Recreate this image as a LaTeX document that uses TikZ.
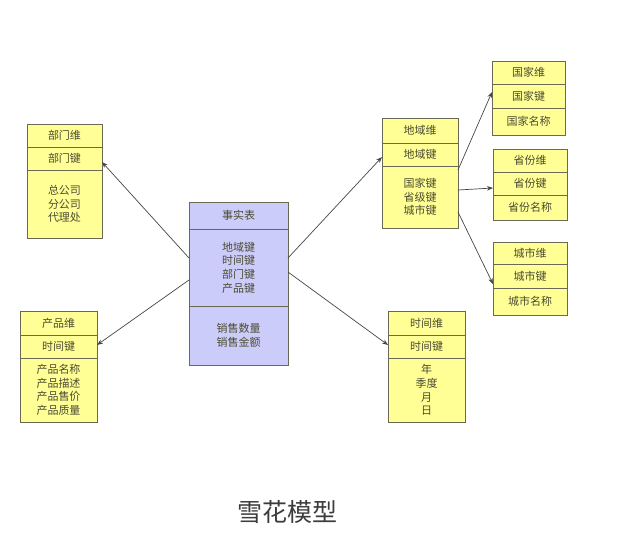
\documentclass[tikz,border=0pt]{standalone}
\usepackage{fontspec}
\setmainfont{Noto Sans CJK SC}
\usetikzlibrary{arrows.meta}
\definecolor{yfill}{RGB}{255,255,150}
\definecolor{pfill}{RGB}{204,204,250}
\definecolor{bline}{RGB}{105,105,85}
\definecolor{btext}{RGB}{75,75,50}
\definecolor{cline}{RGB}{70,70,70}
\begin{document}
\begin{tikzpicture}[x=1pt,y=-1pt,
  cell/.style={draw=bline,line width=0.8pt,inner sep=0pt,outer sep=0pt,anchor=north,
    align=center,text=btext,font=\fontsize{11}{13.6}\selectfont},
  ycell/.style={cell,fill=yfill},
  pcell/.style={cell,fill=pfill},
  conn/.style={draw=cline,line width=0.7pt,-{Stealth[length=6pt,width=4.5pt]}}]
\fill[white] (0,0) rectangle (638,536);
\useasboundingbox (0,0) rectangle (638,536);

% fact table
\node[pcell,minimum width=99pt,minimum height=27pt] (fh) at (238.5,202) {事实表};
\node[pcell,minimum width=99pt,minimum height=77pt] (fm) at (fh.south) {地域键\\时间键\\部门键\\产品键};
\node[pcell,minimum width=99pt,minimum height=59pt] (fb) at (fm.south) {销售数量\\销售金额};

% 部门
\node[ycell,minimum width=75pt,minimum height=23pt] (bmh) at (64.5,124) {部门维};
\node[ycell,minimum width=75pt,minimum height=23pt] (bmk) at (bmh.south) {部门键};
\node[ycell,minimum width=75pt,minimum height=68pt] (bmb) at (bmk.south) {总公司\\分公司\\代理处};

% 产品
\node[ycell,minimum width=77pt,minimum height=24pt] (cph) at (58.5,311) {产品维};
\node[ycell,minimum width=77pt,minimum height=23pt] (cpk) at (cph.south) {时间键};
\node[ycell,minimum width=77pt,minimum height=64pt] (cpb) at (cpk.south) {产品名称\\产品描述\\产品售价\\产品质量};

% 地域
\node[ycell,minimum width=76pt,minimum height=25pt] (dyh) at (420,118) {地域维};
\node[ycell,minimum width=76pt,minimum height=23pt] (dyk) at (dyh.south) {地域键};
\node[ycell,minimum width=76pt,minimum height=62pt] (dyb) at (dyk.south) {国家键\\省级键\\城市键};

% 时间
\node[ycell,minimum width=77pt,minimum height=24pt] (sjh) at (426.5,311) {时间维};
\node[ycell,minimum width=77pt,minimum height=23pt] (sjk) at (sjh.south) {时间键};
\node[ycell,minimum width=77pt,minimum height=64pt] (sjb) at (sjk.south) {年\\季度\\月\\日};

% 国家
\node[ycell,minimum width=73pt,minimum height=23pt] (gjh) at (528.5,61) {国家维};
\node[ycell,minimum width=73pt,minimum height=24pt] (gjk) at (gjh.south) {国家键};
\node[ycell,minimum width=73pt,minimum height=27pt] (gjb) at (gjk.south) {国家名称};

% 省份
\node[ycell,minimum width=74pt,minimum height=23pt] (sfh) at (530,149) {省份维};
\node[ycell,minimum width=74pt,minimum height=23pt] (sfk) at (sfh.south) {省份键};
\node[ycell,minimum width=74pt,minimum height=25pt] (sfb) at (sfk.south) {省份名称};

% 城市
\node[ycell,minimum width=74pt,minimum height=22pt] (csh) at (530,242) {城市维};
\node[ycell,minimum width=74pt,minimum height=24pt] (csk) at (csh.south) {城市键};
\node[ycell,minimum width=74pt,minimum height=27pt] (csb) at (csk.south) {城市名称};

% connectors
\draw[conn] ([yshift=9.5pt]fm.west) -- ([yshift=-3.5pt]bmk.east);
\draw[conn] ([yshift=-12.5pt]fm.west) -- ([yshift=1.5pt]cpk.east);
\draw[conn] ([yshift=9.5pt]fm.east) -- ([yshift=-2.5pt]dyk.west);
\draw[conn] ([yshift=-4.5pt]fm.east) -- ([yshift=1.5pt]sjk.west);
\draw[conn] ([yshift=27pt]dyb.east) -- ([yshift=4pt]gjk.west);
\draw[conn] ([yshift=7pt]dyb.east) -- ([yshift=-4.5pt]sfk.west);
\draw[conn] ([yshift=-15pt]dyb.east) -- ([yshift=-8pt]csk.west);

% title
\node[font=\fontsize{25}{30}\selectfont,text={rgb,255:red,60;green,60;blue,60}] (title) at (287,512) {雪花模型};
\end{tikzpicture}
\end{document}
